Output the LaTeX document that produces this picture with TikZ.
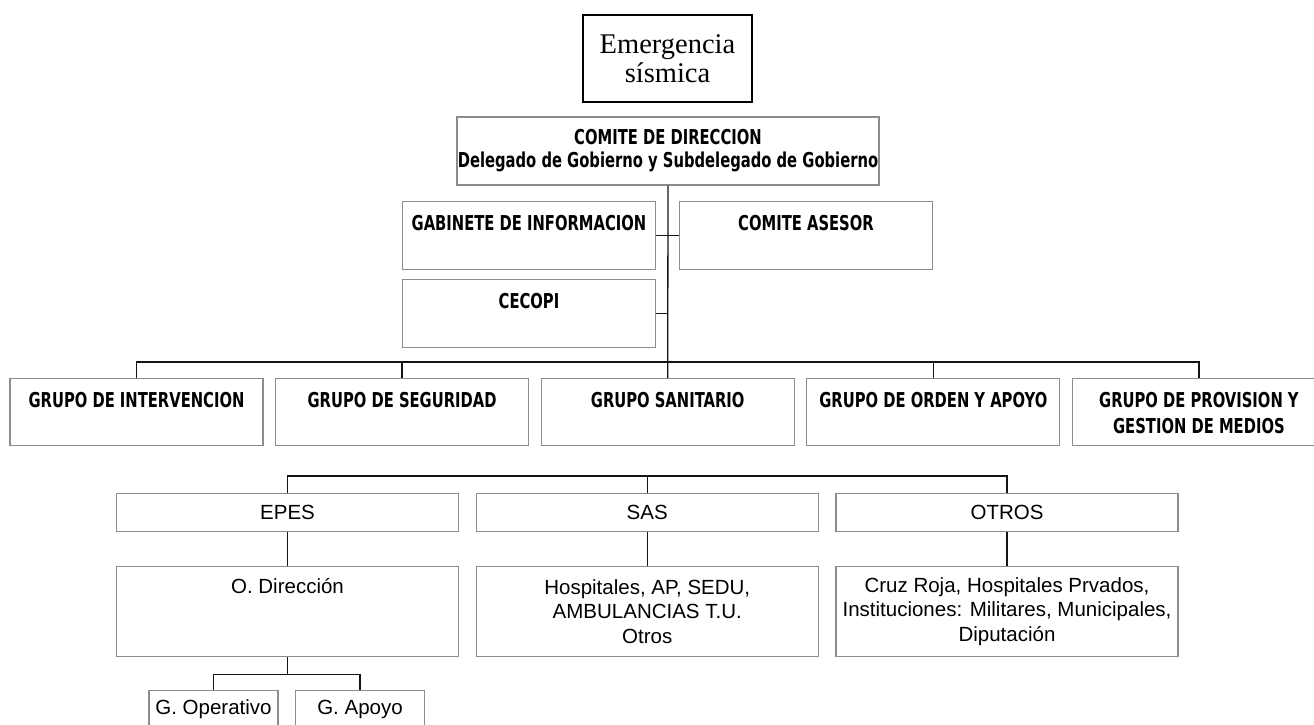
\documentclass[tikz,border=0pt]{standalone}
\usepackage{fontspec}
\usetikzlibrary{positioning}
\newfontfamily\fuenteserif{Liberation Serif}
\newfontfamily\fuentegrupo[FakeStretch=0.72]{DejaVu Sans}
\newfontfamily\fuentearial{Liberation Sans}
\definecolor{GrisBorde}{rgb}{0.55, 0.55, 0.55}
\definecolor{GrisLinea}{rgb}{0.08, 0.08, 0.08}

\begin{document}
\begin{tikzpicture}[
    x=1pt, y=-1pt,
    font=\fuentegrupo\bfseries\fontsize{20.5}{25.5}\selectfont,
    caja/.style={draw=GrisBorde, line width=1.2pt, fill=white, inner sep=0pt,
        align=center, minimum width=253pt},
    % texto pegado arriba de la caja
    arriba/.style={caja, text height=29pt, text depth=39pt},
    grupo/.style={caja, text height=29pt, text depth=38pt},
    dosfilas/.style={text height=54.5pt, text depth=12.5pt},
    unafila/.style={},
    ente/.style={caja, font=\fuentearial\fontsize{20.5}{24.5}\selectfont,
        minimum width=342pt, minimum height=38pt},
    detalle/.style={ente, minimum height=90pt},
    hoja/.style={ente, minimum width=129pt},
    linea/.style={draw=GrisLinea, line width=1.3pt},
]
\useasboundingbox (0,0) rectangle (1314,724);

% Cabecera
\node[draw=black, line width=1.6pt, inner sep=0pt, align=center,
    minimum width=169pt, minimum height=87pt,
    font=\fuenteserif\fontsize{28.5}{29.5}\selectfont] (emergencia) at (667.5,58.5)
    {Emergencia\\sísmica};

\node[caja, minimum width=422pt, minimum height=68pt,
    font=\fuentegrupo\bfseries\fontsize{20.5}{23}\selectfont] (comite) at (668,151)
    {COMITE DE DIRECCION\\Delegado de Gobierno y Subdelegado de Gobierno};

\node[arriba, anchor=north] (gabinete) at (529,201) {GABINETE DE INFORMACION};
\node[arriba, anchor=north] (asesor) at (806,201) {COMITE ASESOR};
\node[arriba, anchor=north] (cecopi) at (529,279) {CECOPI};

% Fila de grupos
\foreach \txt/\filas [count=\i] in {%
    GRUPO DE INTERVENCION/unafila,
    GRUPO DE SEGURIDAD/unafila,
    GRUPO SANITARIO/unafila,
    GRUPO DE ORDEN Y APOYO/unafila,
    {GRUPO DE PROVISION Y\\GESTION DE MEDIOS}/dosfilas%
}{
    \node[grupo, \filas, anchor=north] (g\i) at ({136.5+265.6*(\i-1)},378) {\txt};
}

\draw[linea] (comite.south) -- (g3.north);
\draw[linea] (gabinete.east) -- (asesor.west);
\draw[linea] (cecopi.east) -- (cecopi.east -| comite.south);
\draw[linea] (g1.north) -- ++(0,-16) -| (g5.north);
\foreach \i in {2,4}
    \draw[linea] (g\i.north) -- ++(0,-16);

% Grupo sanitario: entes
\foreach \txt [count=\i] in {EPES, SAS, OTROS}{
    \node[ente, anchor=north] (e\i) at ({287.5+359.75*(\i-1)},493) {\txt};
}
\draw[linea] (e1.north) -- ++(0,-17) -| (e3.north);
\draw[linea] (e2.north) -- ++(0,-17);

\node[ente, text height=27pt, text depth=63pt, anchor=north] (d1) at (287.5,566)
    {O. Dirección};
\node[detalle, anchor=north] (d2) at (647.25,566)
    {Hospitales, AP, SEDU,\\AMBULANCIAS T.U.\\Otros};
\node[detalle, anchor=north] (d3) at (1007,566)
    {Cruz Roja, Hospitales Prvados,\\Instituciones: Militares, Municipales,\\Diputación};
\foreach \i in {1,2,3}
    \draw[linea] (e\i.south) -- (d\i.north);

\node[hoja, anchor=north] (operativo) at (213.5,690) {G. Operativo};
\node[hoja, anchor=north] (apoyo) at (360,690) {G. Apoyo};
\draw[linea] (d1.south) -- ++(0,17) -| (operativo.north);
\draw[linea] (d1.south) ++(0,17) -| (apoyo.north);

\end{tikzpicture}
\end{document}
